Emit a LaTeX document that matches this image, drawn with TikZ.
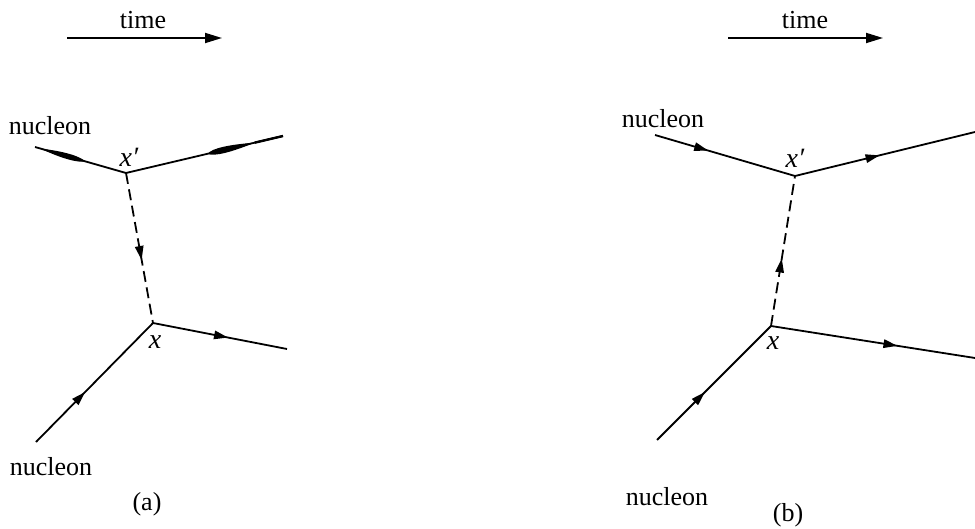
\documentclass[tikz,border=0pt]{standalone}
\usepackage{fontspec}
\setmainfont{Liberation Serif}
\usetikzlibrary{arrows.meta,decorations.markings,calc}
\tikzset{
  prop/.style={line width=0.9pt},
  meson/.style={line width=0.9pt, dash pattern=on 5.5pt off 2.8pt},
  midarrow/.style={postaction={decorate},
    decoration={markings, mark=at position #1 with {\arrow{Triangle[length=7pt,width=4.2pt]}}}},
  timearrow/.style={line width=0.9pt, -{Triangle[length=8.5pt,width=5pt]}},
  lbl/.style={font=\fontsize{13}{15}\selectfont, inner sep=0pt},
  vlbl/.style={font=\fontsize{14}{16}\selectfont\itshape, inner sep=0pt}
}
\begin{document}
\begin{tikzpicture}[x=0.5pt,y=-0.5pt]
\useasboundingbox (0,0) rectangle (975,529);

% ---------- (a) ----------
\coordinate (ta1) at (67,38);
\coordinate (ta2) at (222,38);
\draw[timearrow] (ta1) -- (ta2);
\node[lbl] (timea) at (143,20) {time};

\coordinate (ina) at (35,147);
\coordinate (xpa) at (126,173);
\coordinate (outa) at (283,136);
\coordinate (xa) at (153,323);
\coordinate (outb) at (287,349);
\coordinate (inb) at (36,442);

\draw[prop] (ina) -- (xpa) -- (outa);
% smeared heads on the upper nucleon line
\coordinate (la) at ($(ina)!0.06!(xpa)$);
\coordinate (lb) at ($(ina)!0.55!(xpa)$);
\fill (la) .. controls ($(la)!0.55!(lb)!2.1pt!90:(lb)$) and ($(la)!0.88!(lb)!1.6pt!90:(lb)$) .. (lb)
      .. controls ($(lb)!0.12!(la)!1.6pt!90:(la)$) and ($(lb)!0.45!(la)!2.1pt!90:(la)$) .. (la) -- cycle;
\coordinate (ra) at ($(xpa)!0.52!(outa)$);
\coordinate (rb) at ($(xpa)!0.82!(outa)$);
\fill (ra) .. controls ($(ra)!0.12!(rb)!2.3pt!90:(rb)$) and ($(ra)!0.5!(rb)!1.9pt!90:(rb)$) .. (rb)
      .. controls ($(rb)!0.5!(ra)!1.9pt!90:(ra)$) and ($(rb)!0.88!(ra)!2.3pt!90:(ra)$) .. (ra) -- cycle;
\draw[line width=1.2pt] (rb) -- (outa);

\draw[meson, midarrow=0.58] (xpa) -- (xa);
\draw[prop, midarrow=0.56] (xa) -- (outb);
\draw[prop, midarrow=0.42] (inb) -- (xa);

\node[lbl] (nuca1) at (50,126) {nucleon};
\node[lbl] (nuca2) at (51,467) {nucleon};
\node[vlbl] (xpalbl) at (129,157) {x′};
\node[vlbl] (xalbl) at (155,342) {x};
\node[lbl] (capa) at (147,504) {(a)};

% ---------- (b) ----------
\coordinate (tb1) at (728,38);
\coordinate (tb2) at (883,38);
\draw[timearrow] (tb1) -- (tb2);
\node[lbl] (timeb) at (805,20) {time};

\coordinate (inc) at (655,135);
\coordinate (xpb) at (795,176);
\coordinate (outc) at (975,132);
\coordinate (xb) at (771,326);
\coordinate (outd) at (975,358);
\coordinate (ind) at (657,440);

\draw[prop, midarrow=0.38] (inc) -- (xpb);
\draw[prop, midarrow=0.47] (xpb) -- (outc);
\draw[meson, midarrow=0.45] (xb) -- (xpb);
\draw[prop, midarrow=0.62] (xb) -- (outd);
\draw[prop, midarrow=0.42] (ind) -- (xb);

\node[lbl] (nucb1) at (663,119) {nucleon};
\node[lbl] (nucb2) at (667,497) {nucleon};
\node[vlbl] (xpblbl) at (795,158) {x′};
\node[vlbl] (xblbl) at (773,343) {x};
\node[lbl] (capb) at (788,515) {(b)};
\end{tikzpicture}
\end{document}
